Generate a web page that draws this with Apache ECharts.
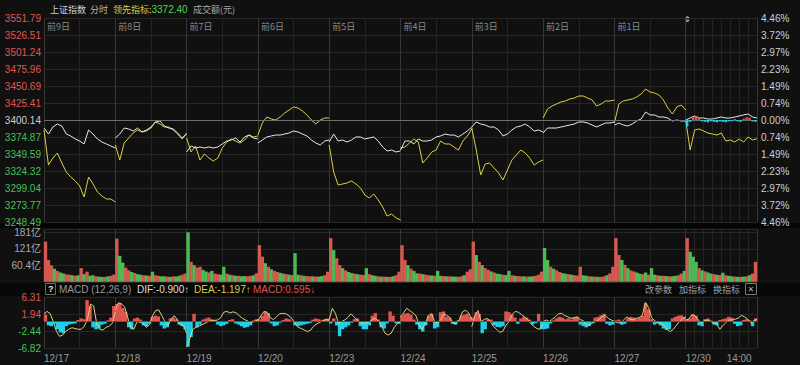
<!DOCTYPE html>
<html><head><meta charset="utf-8">
<script src="https://cdn.jsdelivr.net/npm/echarts@6/dist/echarts.min.js"></script>
<style>html,body{margin:0;padding:0;background:#101010;}#c{width:800px;height:365px;}</style>
</head><body><div id="c"></div>
<script>
// ---------- data ----------
const dates = ['12/17','12/18','12/19','12/20','12/23','12/24','12/25','12/26','12/27','12/30'];
const dayLabels = ['前9日','前8日','前7日','前6日','前5日','前4日','前3日','前2日','前1日'];
const timeLabel = '14:00';
const priceTicks = ['3248.49','3273.77','3299.04','3324.32','3349.59','3374.87','3400.14','3425.41','3450.69','3475.96','3501.24','3526.51','3551.79'];
const pctTicks = ['4.46%','3.72%','2.97%','2.23%','1.49%','0.74%','0.00%','0.74%','1.49%','2.23%','2.97%','3.72%','4.46%'];
const volTicks = ['','60.4亿','121亿','181亿'];
const macdTicks = ['-6.82','-2.44','1.94','6.31'];

// 上证指数 (17 samples per day, every 15 min)
const indexWhite = [
 [3388.2,3379.3,3389.7,3394.2,3391.2,3379.3,3376.4,3371.9,3368.9,3364.5,3385.3,3379.3,3371.9,3367.4,3364.5,3361.5,3358.5],
 [3373.4,3379.3,3388.2,3386.8,3383.8,3388.2,3382.3,3385.3,3389.7,3397.2,3398.7,3391.2,3388.2,3386.8,3380.8,3373.4,3379.3],
 [3352.6,3361.5,3358.5,3360.0,3358.5,3360.0,3358.5,3360.0,3364.5,3368.9,3370.4,3373.4,3367.4,3374.9,3377.8,3373.4,3371.9],
 [3365.9,3370.4,3374.9,3376.4,3377.8,3377.8,3379.3,3380.8,3383.8,3382.3,3379.3,3376.4,3370.4,3365.9,3363.0,3368.9,3370.4],
 [3367.4,3379.3,3368.9,3370.4,3367.4,3370.4,3374.9,3374.9,3371.9,3373.4,3374.9,3368.9,3360.0,3354.1,3355.5,3352.6,3354.1],
 [3355.5,3368.9,3368.9,3364.5,3371.9,3368.9,3368.9,3370.4,3374.9,3376.4,3379.3,3377.8,3377.8,3374.9,3379.3,3383.8,3389.7],
 [3389.7,3397.2,3394.2,3392.7,3389.7,3389.7,3385.3,3376.4,3379.3,3385.3,3389.7,3391.2,3394.2,3389.7,3383.8,3385.3,3382.3],
 [3380.8,3388.2,3388.2,3388.2,3389.7,3391.2,3392.7,3394.2,3397.2,3397.2,3395.7,3392.7,3389.7,3392.7,3395.7,3395.7,3397.2],
 [3392.7,3395.7,3392.7,3391.2,3394.2,3398.7,3401.6,3412.0,3407.6,3407.6,3404.6,3404.6,3403.1,3398.7,3400.1,3398.7,3398.7],
 [3400.1,3403.1,3406.1,3403.1,3403.1,3401.6,3401.6,3403.1,3404.6,3403.1,3403.1,3404.6,3406.1,3407.6,3409.1,3404.6,3403.1]
];
// 领先指标
const leadYellow = [
 [3385.3,3333.2,3343.6,3351.1,3336.2,3322.8,3315.4,3309.5,3302.0,3285.7,3315.4,3305.0,3293.1,3287.2,3282.7,3282.7,3278.2],
 [3363.0,3340.7,3365.9,3373.4,3380.8,3385.3,3382.3,3383.8,3388.2,3397.2,3394.2,3389.7,3389.7,3385.3,3379.3,3371.9,3380.8],
 [3373.4,3352.6,3361.5,3340.7,3349.6,3343.6,3339.2,3343.6,3358.5,3367.4,3371.9,3368.9,3365.9,3370.4,3377.8,3374.9,3376.4],
 [3377.8,3395.7,3404.6,3401.6,3400.1,3404.6,3410.5,3415.0,3419.5,3418.0,3413.5,3407.6,3400.1,3394.2,3400.1,3403.1,3403.1],
 [3363.0,3322.8,3303.5,3305.0,3306.5,3309.5,3305.0,3299.1,3288.6,3284.2,3290.1,3281.2,3270.8,3257.4,3260.4,3254.5,3251.5],
 [3358.5,3360.0,3365.9,3371.9,3367.4,3336.2,3343.6,3352.6,3355.5,3368.9,3364.5,3364.5,3360.0,3355.5,3368.9,3376.4,3386.8],
 [3388.2,3355.5,3318.4,3334.7,3336.2,3328.8,3321.4,3310.9,3325.8,3340.7,3348.1,3355.5,3351.1,3343.6,3333.2,3337.7,3340.7],
 [3403.1,3416.5,3420.9,3423.9,3426.9,3428.4,3431.4,3432.8,3435.8,3435.8,3432.8,3429.9,3420.9,3423.9,3428.4,3428.4,3429.9],
 [3395.7,3423.9,3428.4,3429.9,3431.4,3434.3,3438.8,3446.2,3441.8,3440.3,3437.3,3429.9,3418.0,3409.1,3419.5,3422.4,3415.0],
 [3400.1,3355.5,3385.3,3386.8,3383.8,3380.8,3379.3,3377.8,3380.8,3368.9,3370.4,3367.4,3371.9,3367.4,3374.9,3370.4,3372.4]
];
// last-day small up/down bars around the base line (%)
const lastDayDiff = [-0.28,-0.08,0.12,0.15,0.10,-0.06,-0.08,-0.10,-0.05,-0.08,-0.10,-0.06,-0.08,-0.10,-0.06,-0.05,0.04,-0.06,-0.08,0.06,0.12,0.10,-0.06,-0.08];

// 成交额 (亿), 24 bars per day
const volume = [
 [147,80,60,48,40,34,30,27,26,24,22,24,50,28,37,22,24,20,19,18,18,20,22,26],
 [158,95,70,52,42,36,32,28,26,24,23,22,37,24,22,20,20,19,18,20,19,22,26,30],
 [181,73,61,52,55,44,38,34,40,30,28,26,55,30,26,24,22,22,20,21,20,22,24,31],
 [134,92,68,55,46,40,36,33,30,28,26,25,105,26,24,22,21,20,20,19,19,21,24,37],
 [160,116,86,61,50,42,36,32,30,28,26,25,50,28,24,22,20,19,19,18,18,20,24,37],
 [134,80,61,48,40,31,30,28,26,24,23,22,40,22,21,20,20,19,19,18,20,24,37,46],
 [147,98,73,61,50,44,38,34,30,28,26,25,40,24,22,21,20,20,19,19,20,22,26,37],
 [124,80,55,48,42,36,32,30,28,26,24,23,55,24,22,20,19,19,18,18,20,24,31,55],
 [160,98,80,62,50,42,38,34,30,28,34,26,50,26,24,22,22,21,20,20,22,24,30,40],
 [160,110,92,73,50,42,38,34,30,28,26,25,33,24,22,20,19,18,18,19,20,24,30,73]
];
const volUp = [
 'RRRGRGGRRGRGRGRGGRGGRGRR','RGGRRGRGGRGRGRRGGRGRGGRR','GRGRRGGRGRRGGRGRGRGGRRGR',
 'RRGRGRRGGRGRGGRGRRGRGGRR','RGRRGRGGRGRRGRGGRGRGRGRR','RRGRGGRGRRGRGGRGRGGRRGRR',
 'RGRGRRGRGGRGGRGRRGRGGRRR','GGRGRRGGRGRRRGGRGRGRRGRR','RRGRGRRGGRGRGGRGRGRGGRRG',
 'RGGGRGRGGRGRGRGGRGRGRGRR'
];
// MACD histogram, 24 bars per day
const macdHist = [
 [1.8,-1.0,-1.2,-0.5,-2.0,-2.8,-3.0,-1.2,-0.8,-0.6,-0.5,0.4,0.8,0.6,5.5,4.0,-1.5,-2.0,-1.8,-0.8,-0.6,0.3,1.0,4.0],
 [4.5,4.8,3.5,2.5,-1.5,-2.0,0.8,1.0,0.5,-1.0,-1.2,-0.5,1.2,1.5,1.3,-1.0,-1.8,-1.5,0.8,1.0,0.6,-0.8,-1.2,-2.0],
 [-6.5,-4.0,2.0,-1.5,-0.8,0.5,0.8,1.0,0.6,0.3,-0.8,-1.2,-1.0,-0.6,0.4,0.6,-0.5,-0.8,-1.2,-1.6,-1.4,-1.0,0.3,0.6],
 [0.5,1.5,2.6,2.2,-0.5,-1.2,-1.0,-0.3,0.4,0.8,0.6,0.2,-1.0,-1.2,-1.0,-0.8,-0.6,-0.4,0.5,0.8,0.6,0.3,0.6,0.8],
 [-0.5,0.8,-1.0,-3.8,-2.0,-1.5,-1.0,-0.3,0.6,0.8,-1.2,-2.0,-2.0,-1.0,1.5,2.2,0.5,-1.5,-1.8,-0.5,2.6,1.5,-0.5,-0.6],
 [1.5,2.0,2.2,1.8,0.5,-0.8,-2.0,-2.6,-1.0,1.5,2.0,-1.8,-1.5,2.4,2.6,1.2,1.0,-0.6,-0.8,0.4,1.5,1.8,2.0,1.2],
 [1.0,2.4,2.0,-3.0,-2.0,0.6,0.5,-1.0,-1.4,-1.5,-1.2,2.6,2.4,1.8,1.0,-0.6,0.8,1.2,1.0,0.5,-0.8,-0.4,2.0,-2.0],
 [-2.0,-1.8,-0.5,0.3,0.8,1.2,1.0,0.6,0.8,0.5,1.0,1.2,-0.8,-1.2,-1.5,-1.2,-0.3,1.0,1.2,1.6,2.0,-0.6,-1.0,-0.8],
 [0.3,0.5,-0.8,-0.6,0.8,1.2,1.0,0.6,1.0,1.5,4.7,3.0,0.6,-0.8,-0.5,-1.0,-1.8,-2.2,-2.0,0.8,1.2,1.5,1.6,1.2],
 [0.4,0.8,1.8,1.5,-1.0,-1.2,0.6,0.8,0.3,-0.8,-1.0,0.4,0.6,0.8,1.2,1.0,-0.6,-1.2,-1.0,0.4,0.6,0.3,-1.2,0.8]
];
// MACD line
const macdLine = [
 [2.0,2.6,2.0,0.0,-2.5,-3.8,-3.5,-2.5,-2.0,-1.6,-1.8,-2.0,-2.0,-1.2,0.5,4.5,4.0,-0.5,-2.0,-2.2,-1.5,-1.2,-0.5,2.5],
 [3.0,4.8,4.5,3.8,1.0,-1.5,-2.0,0.0,-0.2,-0.5,-1.5,-0.8,1.5,2.8,3.0,1.5,0.0,-1.0,0.5,1.5,0.5,-0.8,-1.0,-3.0],
 [-6.5,-4.5,-2.0,-1.5,-1.2,-0.8,-0.4,0.0,0.2,0.3,0.4,1.0,2.4,2.6,2.2,2.5,2.2,1.5,0.8,0.4,0.0,-0.2,0.0,0.5],
 [0.2,1.5,2.6,2.3,1.0,0.5,1.2,2.0,2.1,2.0,1.5,0.8,-0.5,-1.5,-1.8,-2.2,-2.6,-2.2,-1.2,-0.6,-0.2,0.2,0.5,0.3],
 [0.4,3.4,2.1,-0.5,0.0,0.4,1.0,2.0,1.2,0.4,-0.3,-0.5,-0.3,0.0,0.5,0.8,0.0,-1.3,-3.0,-3.5,-3.0,-1.5,-0.5,0.0],
 [1.2,2.2,3.4,2.8,2.2,1.5,-1.0,-2.0,-0.5,1.5,2.0,0.0,-0.5,0.5,2.0,1.5,1.0,-0.5,-0.5,0.5,2.5,2.9,2.2,0.5],
 [-1.3,1.5,2.8,0.0,0.5,0.8,0.0,-1.3,-2.0,-2.8,-2.5,-1.0,0.0,1.8,2.6,2.4,1.8,1.2,0.5,-0.5,-1.3,-1.8,-2.0,-0.5],
 [0.0,0.4,0.0,0.6,1.2,2.0,2.1,1.5,1.2,0.8,1.0,1.2,0.5,0.2,-1.0,-0.8,-0.4,0.0,0.5,1.2,1.6,0.8,0.4,0.0],
 [0.0,-0.3,-0.4,0.4,1.2,0.6,0.4,0.8,1.0,1.6,4.9,3.6,1.0,0.2,-0.3,-0.5,-1.0,-2.0,-2.6,-2.0,-1.0,0.0,0.8,1.2],
 [0.4,0.6,1.8,1.5,0.4,-0.3,0.2,0.4,0.0,-0.3,-0.6,-2.0,-1.0,-0.2,0.4,0.4,0.6,0.9,1.6,1.2,0.6,-0.3,0.2,0.6]
];
const macdInfo = {dif:'-0.900↑', dea:'-1.197↑', macd:'0.595↓'};

// ---------- build ----------
const DAY = 240, ND = dates.length, XMAX = DAY*ND;
const RED='#e05550', GREEN='#43c15a', CYAN='#1fd0e8', YEL='#dccf45';
const VRED='#d4594f', VGREEN='#4cba55';
const NUMF = '"Liberation Sans","Noto Sans CJK SC",sans-serif';
const CJKF = '"Noto Sans CJK SC","Liberation Sans",sans-serif';

function lineData(days){
  const out=[];
  days.forEach((arr,d)=>{
    const step = DAY/(arr.length-1);
    arr.forEach((v,k)=>out.push([d*DAY+k*step, v]));
    if(d<days.length-1) out.push([d*DAY+DAY,'-']);
  });
  return out;
}
function barData(days, dayOffset, colorFn){
  const out=[];
  days.forEach((arr,d)=>{
    const step = DAY/arr.length;
    arr.forEach((v,k)=>{
      const item = {value:[(d+dayOffset)*DAY+(k+0.5)*step, v]};
      if(colorFn) item.itemStyle = {color: colorFn(v,d,k)};
      out.push(item);
    });
  });
  return out;
}
const bounds = []; for(let d=0; d<=ND; d++) bounds.push(d*DAY);
const subs = []; for(let d=0; d<ND-1; d++) subs.push(d*DAY+DAY/2);
for(let k=1;k<8;k++) subs.push((ND-1)*DAY+k*30);
const dayStarts = bounds.slice(0, ND);
const lastDay14 = (ND-1)*DAY + 180;

const pMin=+priceTicks[0], pMax=+priceTicks[priceTicks.length-1], pInt=(pMax-pMin)/(priceTicks.length-1);
const base = +priceTicks[6];
const mMin=+macdTicks[0], mMax=+macdTicks[3], mInt=(mMax-mMin)/3;
const vInt = 60.4, vMax = 193.3;

const GRIDS = [
  {left:44, width:713, top:18, height:204},
  {left:44, width:713, top:229, height:52.8},
  {left:44, width:713, top:297, height:51}
];
function xa(grid, pos, ticks, color, extra){
  return Object.assign({
    type:'value', gridIndex:grid, position:pos, min:0, max:XMAX,
    axisLine:{show:false}, axisTick:{show:false, customValues:ticks},
    axisLabel:{show:false}, splitLine:{show:true, lineStyle:{color:color, width:1}}
  }, extra||{});
}
const SUBC='#242424', BNDC='#363636';
const xAxis = [
  xa(0,'top',subs,SUBC,{axisLabel:{show:true, inside:true, customValues:dayStarts.slice(0,ND-1), align:'left', margin:4, padding:[0,0,0,3],
     color:'#8a8a8a', fontSize:9, fontFamily:CJKF, formatter:v=>dayLabels[Math.round(v/DAY)]||''}}),
  xa(0,'bottom',bounds,BNDC),
  xa(1,'bottom',subs,SUBC),
  xa(1,'top',bounds,BNDC),
  xa(2,'bottom',subs,SUBC,{axisLabel:{show:true, customValues:dayStarts, align:'left', margin:5, color:'#9a9a9a', fontSize:10, fontFamily:NUMF,
     formatter:v=>dates[Math.round(v/DAY)]||''}}),
  xa(2,'top',bounds,BNDC),
  xa(2,'bottom',[],SUBC,{splitLine:{show:false}, axisLabel:{show:true, customValues:[lastDay14], align:'center', margin:5, color:'#9a9a9a', fontSize:10, fontFamily:NUMF, formatter:()=>timeLabel}})
];
const yAxis = [
  {type:'value', gridIndex:0, position:'left', min:pMin, max:pMax, interval:pInt,
   axisLine:{show:false}, axisTick:{show:false}, splitLine:{lineStyle:{color:'#262626'}},
   axisLabel:{margin:3, fontSize:10, fontFamily:NUMF, showMinLabel:true, showMaxLabel:true,
     formatter:v=>priceTicks[Math.round((v-pMin)/pInt)],
     color:v=>{const i=Math.round((v-pMin)/pInt); return i>6?RED:(i<6?GREEN:'#cfcfcf');}}},
  {type:'value', gridIndex:0, position:'right', min:-4.46, max:4.46, interval:8.92/12,
   axisLine:{show:false}, axisTick:{show:false}, splitLine:{show:false},
   axisLabel:{margin:4, fontSize:10, fontFamily:NUMF,
     formatter:v=>pctTicks[Math.round((v+4.46)/(8.92/12))],
     color:v=>{const i=Math.round((v+4.46)/(8.92/12)); return i>6?RED:(i<6?GREEN:'#cfcfcf');}}},
  {type:'value', gridIndex:1, position:'left', min:0, max:vMax, interval:vInt,
   axisLine:{show:false}, axisTick:{show:false}, splitLine:{lineStyle:{color:'#262626'}},
   axisLabel:{margin:3, fontSize:10, fontFamily:NUMF, color:'#a8a8a8',
     formatter:v=>{const i=Math.round(v/vInt); return (Math.abs(v-i*vInt)<1 && volTicks[i])||'';}}},
  {type:'value', gridIndex:2, position:'left', min:mMin, max:mMax, interval:mInt,
   axisLine:{show:false}, axisTick:{show:false}, splitLine:{lineStyle:{color:'#262626'}},
   axisLabel:{margin:3, fontSize:10, fontFamily:NUMF,
     formatter:v=>macdTicks[Math.round((v-mMin)/mInt)],
     color:v=>v>0?RED:GREEN}}
];

const lastTxt = leadYellow[ND-1][leadYellow[ND-1].length-1].toFixed(2);
const T = (x,y,text,fill,size,family,extra)=>Object.assign({type:'text', x:x, y:y, silent:true,
   style:{text:text, fill:fill, fontSize:size, fontFamily:family, verticalAlign:'middle'}}, extra||{});
const graphic = [
  {type:'rect', shape:{x:0,y:223,width:800,height:5}, style:{fill:'#050505'}, z:-10, silent:true},
  {type:'rect', shape:{x:0,y:283,width:800,height:13}, style:{fill:'#070707'}, z:-10, silent:true},
  T(50,9,'上证指数','#cfcfcf',9,CJKF),
  T(90,9,'分时','#b4b4b4',9,CJKF),
  {type:'text', x:113, y:9, silent:true, style:{
     text:'{a|领先指标:}{b|'+lastTxt+'}', verticalAlign:'middle',
     rich:{a:{fill:YEL, fontSize:9, fontFamily:CJKF}, b:{fill:'#52d052', fontSize:10, fontFamily:NUMF}}}},
  T(193,9,'成交额(元)','#a8a8a8',9,CJKF),
  T(684,19,'⇕','#e0e0e0',8,'DejaVu Sans'),
  {type:'rect', shape:{x:45.5,y:283.5,width:10,height:11}, style:{fill:'none', stroke:'#6a6a6a', lineWidth:1}, silent:true},
  {type:'text', x:48, y:289, silent:true, style:{text:'?', fill:'#e0e0e0', fontSize:9, fontWeight:'bold', fontFamily:NUMF, verticalAlign:'middle'}},
  T(59,289,'MACD (12,26,9)','#9a9a9a',10,NUMF),
  T(137,289,'DIF:'+macdInfo.dif,'#dedede',10,NUMF),
  T(194,289,'DEA:'+macdInfo.dea,YEL,10,NUMF),
  T(253,289,'MACD:'+macdInfo.macd,RED,10,NUMF),
  T(645,289,'改参数','#a0a0a0',9,CJKF),
  T(679,289,'加指标','#a0a0a0',9,CJKF),
  T(713,289,'换指标','#a0a0a0',9,CJKF),
  {type:'rect', shape:{x:745.5,y:283.5,width:11,height:11}, style:{fill:'none', stroke:'#777', lineWidth:1}, silent:true},
  T(747.5,289,'✕','#b0b0b0',8,'DejaVu Sans')
];

const chart = echarts.init(document.getElementById('c'), null, {renderer:'svg', width:800, height:365});
chart.setOption({
  backgroundColor:'#101010',
  animation:false,
  grid: GRIDS,
  xAxis: xAxis,
  yAxis: yAxis,
  graphic: graphic,
  series:[
    {type:'line', name:'领先指标', xAxisIndex:0, yAxisIndex:0, data:lineData(leadYellow), showSymbol:false, connectNulls:false,
     lineStyle:{color:YEL, width:1}, itemStyle:{color:YEL}, z:3},
    {type:'line', name:'上证指数', xAxisIndex:0, yAxisIndex:0, data:lineData(indexWhite), showSymbol:false, connectNulls:false,
     lineStyle:{color:'#e8e8e8', width:1}, itemStyle:{color:'#e8e8e8'}, z:4,
     markLine:{silent:true, symbol:'none', label:{show:false}, lineStyle:{color:'#6e6e6e', type:'solid', width:1}, data:[{yAxis:base}]}},
    {type:'bar', name:'diff', xAxisIndex:0, yAxisIndex:1, barWidth:2.4, z:5,
     data:barData([lastDayDiff], ND-1, v=>v>=0?RED:CYAN)},
    {type:'bar', name:'成交额', xAxisIndex:2, yAxisIndex:2, barWidth:3.4,
     data:barData(volume, 0, (v,d,k)=>volUp[d][k]==='R'?VRED:VGREEN)},
    {type:'bar', name:'MACD', xAxisIndex:4, yAxisIndex:3, barWidth:3.4,
     data:barData(macdHist, 0, v=>v>=0?RED:CYAN),
     markLine:{silent:true, symbol:'none', label:{show:false}, lineStyle:{color:'#555', type:'solid', width:1}, data:[{yAxis:0}]}},
    {type:'line', name:'DIF', xAxisIndex:4, yAxisIndex:3, data:lineData(macdLine), showSymbol:false,
     lineStyle:{color:'#d8d07e', width:1}, z:4}
  ]
});
</script></body></html>
